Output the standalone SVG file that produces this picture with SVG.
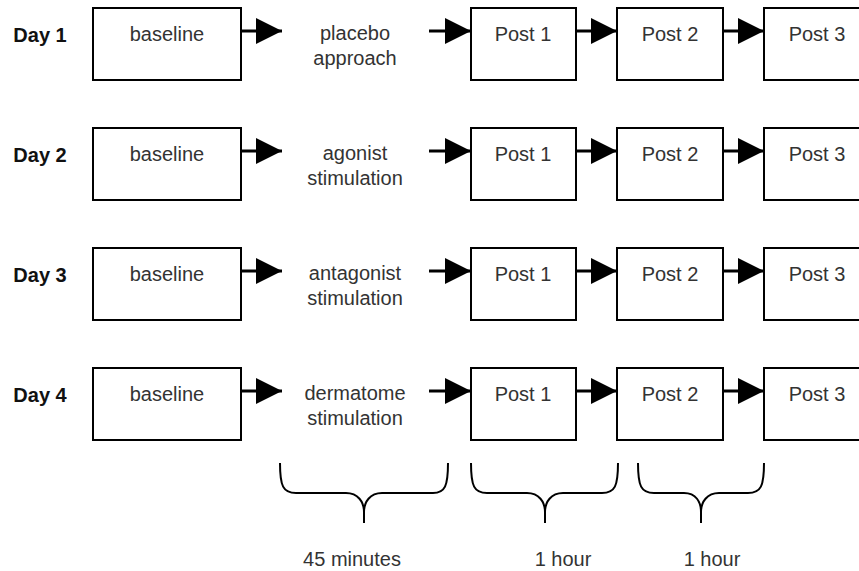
<svg xmlns="http://www.w3.org/2000/svg" width="859" height="571" viewBox="0 0 859 571">
<defs>
<style>
.box{fill:#fff;stroke:#000;stroke-width:2}
.lbl{font-family:"Liberation Sans",Arial,sans-serif;font-size:20px;fill:#333;text-anchor:middle}
.day{font-family:"Liberation Sans",Arial,sans-serif;font-size:20px;font-weight:bold;fill:#111;text-anchor:middle}
.ln{stroke:#000;stroke-width:3;fill:none}
.brace{stroke:#000;stroke-width:2;fill:none}
</style>
<marker id="ah" markerWidth="26" markerHeight="26" refX="26" refY="13" orient="auto" markerUnits="userSpaceOnUse">
<path d="M0,0 L26,13 L0,26 Z" fill="#000"/>
</marker>
</defs>
<rect width="859" height="571" fill="#fff"/>

<g id="day1">
<text class="day" x="40" y="42">Day 1</text>
<g id="d1-baseline"><rect class="box" x="93" y="8" width="148" height="72"/><text class="lbl" x="167" y="41">baseline</text></g>
<g id="d1-treat"><text class="lbl" x="355" y="40">placebo</text><text class="lbl" x="355" y="65">approach</text></g>
<g id="d1-post1"><rect class="box" x="471" y="8" width="105" height="72"/><text class="lbl" x="523" y="41">Post 1</text></g>
<g id="d1-post2"><rect class="box" x="617" y="8" width="106" height="72"/><text class="lbl" x="670" y="41">Post 2</text></g>
<g id="d1-post3"><rect class="box" x="764" y="8" width="106" height="72"/><text class="lbl" x="817" y="41">Post 3</text></g>
</g>

<g id="day2">
<text class="day" x="40" y="162">Day 2</text>
<g id="d2-baseline"><rect class="box" x="93" y="128" width="148" height="72"/><text class="lbl" x="167" y="161">baseline</text></g>
<g id="d2-treat"><text class="lbl" x="355" y="160">agonist</text><text class="lbl" x="355" y="185">stimulation</text></g>
<g id="d2-post1"><rect class="box" x="471" y="128" width="105" height="72"/><text class="lbl" x="523" y="161">Post 1</text></g>
<g id="d2-post2"><rect class="box" x="617" y="128" width="106" height="72"/><text class="lbl" x="670" y="161">Post 2</text></g>
<g id="d2-post3"><rect class="box" x="764" y="128" width="106" height="72"/><text class="lbl" x="817" y="161">Post 3</text></g>
</g>

<g id="day3">
<text class="day" x="40" y="282">Day 3</text>
<g id="d3-baseline"><rect class="box" x="93" y="248" width="148" height="72"/><text class="lbl" x="167" y="281">baseline</text></g>
<g id="d3-treat"><text class="lbl" x="355" y="280">antagonist</text><text class="lbl" x="355" y="305">stimulation</text></g>
<g id="d3-post1"><rect class="box" x="471" y="248" width="105" height="72"/><text class="lbl" x="523" y="281">Post 1</text></g>
<g id="d3-post2"><rect class="box" x="617" y="248" width="106" height="72"/><text class="lbl" x="670" y="281">Post 2</text></g>
<g id="d3-post3"><rect class="box" x="764" y="248" width="106" height="72"/><text class="lbl" x="817" y="281">Post 3</text></g>
</g>

<g id="day4">
<text class="day" x="40" y="402">Day 4</text>
<g id="d4-baseline"><rect class="box" x="93" y="368" width="148" height="72"/><text class="lbl" x="167" y="401">baseline</text></g>
<g id="d4-treat"><text class="lbl" x="355" y="400">dermatome</text><text class="lbl" x="355" y="425">stimulation</text></g>
<g id="d4-post1"><rect class="box" x="471" y="368" width="105" height="72"/><text class="lbl" x="523" y="401">Post 1</text></g>
<g id="d4-post2"><rect class="box" x="617" y="368" width="106" height="72"/><text class="lbl" x="670" y="401">Post 2</text></g>
<g id="d4-post3"><rect class="box" x="764" y="368" width="106" height="72"/><text class="lbl" x="817" y="401">Post 3</text></g>
</g>

<g id="connectors">
<path class="ln" marker-end="url(#ah)" d="M241,31 H282"/>
<path class="ln" marker-end="url(#ah)" d="M429,31 H471"/>
<path class="ln" marker-end="url(#ah)" d="M576,31 H617"/>
<path class="ln" marker-end="url(#ah)" d="M723,31 H764"/>
<path class="ln" marker-end="url(#ah)" d="M241,151 H282"/>
<path class="ln" marker-end="url(#ah)" d="M429,151 H471"/>
<path class="ln" marker-end="url(#ah)" d="M576,151 H617"/>
<path class="ln" marker-end="url(#ah)" d="M723,151 H764"/>
<path class="ln" marker-end="url(#ah)" d="M241,271 H282"/>
<path class="ln" marker-end="url(#ah)" d="M429,271 H471"/>
<path class="ln" marker-end="url(#ah)" d="M576,271 H617"/>
<path class="ln" marker-end="url(#ah)" d="M723,271 H764"/>
<path class="ln" marker-end="url(#ah)" d="M241,391 H282"/>
<path class="ln" marker-end="url(#ah)" d="M429,391 H471"/>
<path class="ln" marker-end="url(#ah)" d="M576,391 H617"/>
<path class="ln" marker-end="url(#ah)" d="M723,391 H764"/>
</g>

<g id="braces">
<path class="brace" d="M280,463 C280,486 283,493 296,493 L346,493 C358,493 364,502 364,512 L364,523 M364,512 C364,502 370,493 382,493 L433,493 C445,493 448,486 448,463"/>
<path class="brace" d="M471,463 C471,486 474,493 487,493 L527,493 C539,493 545,502 545,512 L545,523 M545,512 C545,502 551,493 563,493 L602,493 C615,493 618,486 618,463"/>
<path class="brace" d="M638,463 C638,486 641,493 654,493 L684,493 C696,493 701,502 701,512 L701,523 M701,512 C701,502 707,493 719,493 L748,493 C761,493 764,486 764,463"/>
</g>

<g id="labels">
<text class="lbl" x="352" y="566">45 minutes</text>
<text class="lbl" x="563" y="566">1 hour</text>
<text class="lbl" x="712" y="566">1 hour</text>
</g>
</svg>
